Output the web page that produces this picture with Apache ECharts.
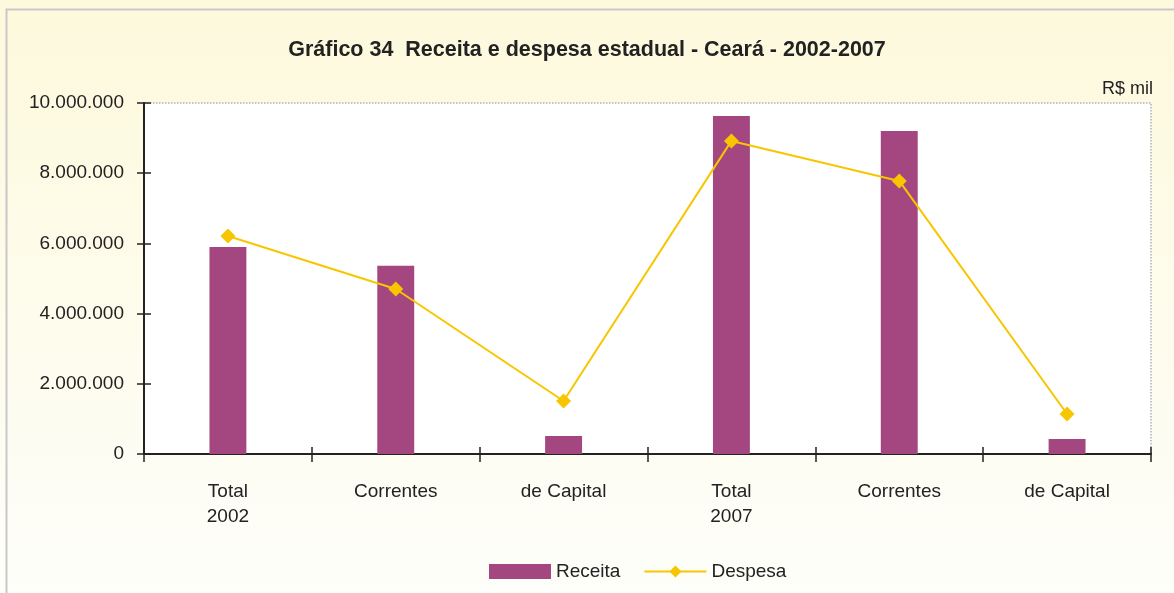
<!DOCTYPE html>
<html>
<head>
<meta charset="utf-8">
<script src="https://cdn.jsdelivr.net/npm/echarts@6/dist/echarts.min.js"></script>
<style>
  html, body { margin: 0; padding: 0; }
  #chart { width: 1174px; height: 593px; }
</style>
</head>
<body>
<div id="chart"></div>
<script>
// dados (R$ mil)
var categorias = ['Total\n2002', 'Correntes', 'de Capital', 'Total\n2007', 'Correntes', 'de Capital'];
var receita = [5900000, 5360000, 510000, 9630000, 9200000, 430000];
var despesa = [6210000, 4700000, 1510000, 8920000, 7780000, 1140000];

var fonte = '"Liberation Sans Narrow", "Liberation Sans", Arial, sans-serif';

var fmt = function (v) {
    return String(v).replace(/\B(?=(\d{3})+(?!\d))/g, '.');
};

var chart = echarts.init(document.getElementById('chart'));
var option = {
    animation: false,
    backgroundColor: new echarts.graphic.LinearGradient(0, 0, 0, 1, [
        { offset: 0, color: '#fdf9dc' },
        { offset: 1, color: '#fefefa' }
    ]),
    textStyle: { fontFamily: fonte },
    graphic: [
        {
            type: 'rect',
            shape: { x: 6.5, y: 9.5, width: 1180, height: 600 },
            style: { fill: null, stroke: '#c8c8c8', lineWidth: 2 },
            silent: true
        },
        {
            type: 'text',
            right: 21,
            top: 80,
            style: { text: 'R$ mil', fontSize: 18, fill: '#222', fontFamily: fonte }
        }
    ],
    title: {
        text: 'Gráfico 34  Receita e despesa estadual - Ceará - 2002-2007',
        left: 'center',
        top: 34,
        textStyle: { fontSize: 21.5, fontWeight: 'bold', color: '#222', fontFamily: fonte }
    },
    legend: {
        bottom: 7,
        left: 484,
        itemGap: 23,
        itemWidth: 62,
        itemHeight: 15,
        textStyle: { fontSize: 19, color: '#222', fontFamily: fonte },
        data: [
            { name: 'Receita', icon: 'rect' },
            { name: 'Despesa' }
        ]
    },
    grid: {
        left: 144,
        right: 23,
        top: 103,
        bottom: 139,
        show: true,
        backgroundColor: '#ffffff',
        borderColor: '#b0b0b0',
        borderWidth: 1.5,
        borderType: 'dotted'
    },
    xAxis: [
        {
            type: 'category',
            data: categorias,
            axisLine: { lineStyle: { color: '#222', width: 2 } },
            axisTick: { show: true, length: 8, lineStyle: { color: '#222', width: 1.5 } },
            axisLabel: { fontSize: 19, color: '#222', lineHeight: 25, margin: 25 }
        },
        {
            type: 'category',
            data: categorias,
            position: 'bottom',
            axisLine: { show: false },
            axisTick: { show: true, inside: true, length: 7, lineStyle: { color: '#222', width: 1.5 } },
            axisLabel: { show: false }
        }
    ],
    yAxis: [
        {
            type: 'value',
            min: 0,
            max: 10000000,
            interval: 2000000,
            axisLine: { show: true, lineStyle: { color: '#222', width: 2 } },
            axisTick: { show: true, length: 7, lineStyle: { color: '#222', width: 1.5 } },
            axisLabel: { fontSize: 19, color: '#222', margin: 20, formatter: fmt },
            splitLine: { show: false }
        },
        {
            type: 'value',
            min: 0,
            max: 10000000,
            interval: 2000000,
            position: 'left',
            axisLine: { show: false },
            axisTick: { show: true, inside: true, length: 7, lineStyle: { color: '#222', width: 1.5 } },
            axisLabel: { show: false },
            splitLine: { show: false }
        }
    ],
    series: [
        {
            name: 'Receita',
            type: 'bar',
            data: receita,
            barWidth: '22%',
            itemStyle: { color: '#a4467f' }
        },
        {
            name: 'Despesa',
            type: 'line',
            data: despesa,
            symbol: 'diamond',
            symbolSize: 15,
            lineStyle: { color: '#f7c600', width: 2 },
            itemStyle: { color: '#f7c600' }
        }
    ]
};
chart.setOption(option);
</script>
</body>
</html>
